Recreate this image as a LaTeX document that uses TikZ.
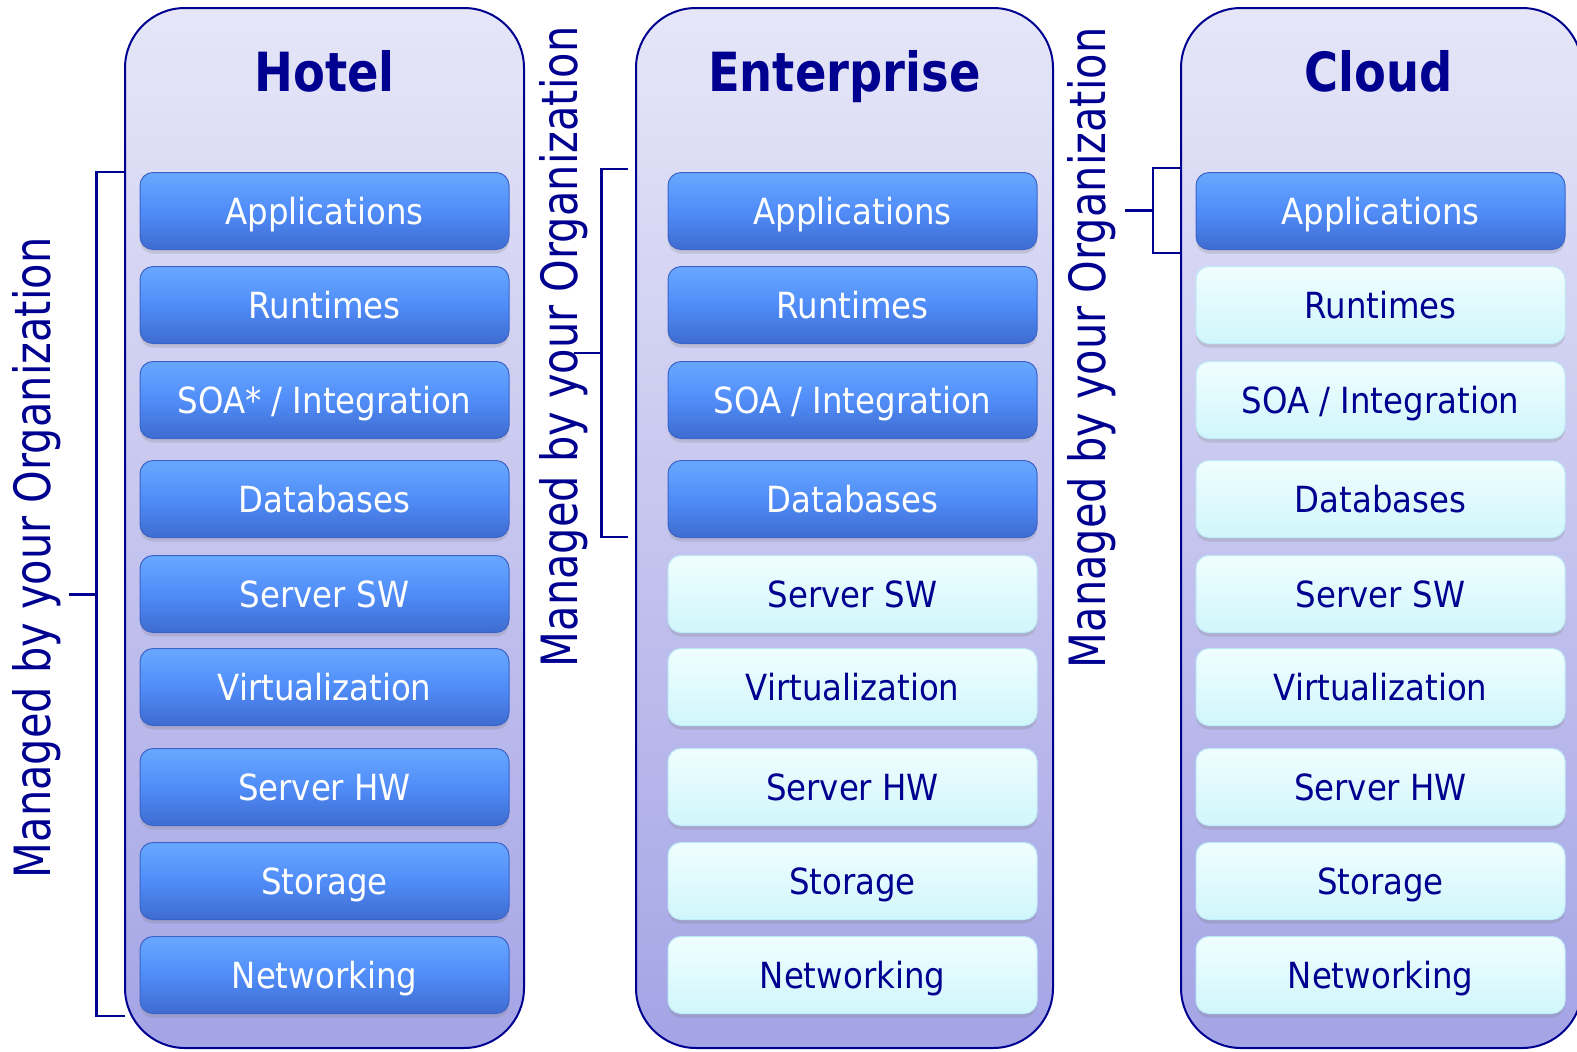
\documentclass[tikz,border=0pt]{standalone}
\usepackage{fontspec}
\setmainfont{DejaVu Sans}[FakeStretch=0.9]
\newfontfamily\titlefont{DejaVu Sans}[FakeStretch=0.86]
\newfontfamily\orgfont{DejaVu Sans}[FakeStretch=0.83]
\usetikzlibrary{shadows}

\definecolor{navy}{RGB}{0,0,144}
\definecolor{paneltop}{RGB}{230,230,248}
\definecolor{panelbot}{RGB}{164,164,230}
\definecolor{bluetop}{RGB}{104,168,255}
\definecolor{bluemid}{RGB}{80,140,248}
\definecolor{bluebot}{RGB}{62,108,208}
\definecolor{blueline}{RGB}{60,100,200}
\definecolor{litetop}{RGB}{240,254,255}
\definecolor{litebot}{RGB}{208,246,251}
\definecolor{liteline}{RGB}{190,236,246}

\tikzset{
  panel/.style={draw=navy, line width=2pt, rounded corners=60pt,
    top color=paneltop, bottom color=panelbot, minimum height=1040pt},
  layer/.style={rounded corners=13pt, minimum width=369pt, minimum height=77pt,
    inner sep=0pt, text height=26.2pt, text depth=0pt, line width=1pt,
    font=\fontsize{36}{40}\selectfont,
    drop shadow={shadow xshift=0pt, shadow yshift=-4pt, opacity=0.25}},
  bluebox/.style={layer, draw=blueline, top color=bluetop, bottom color=bluebot,
    middle color=bluemid, text=white},
  litebox/.style={layer, draw=liteline, top color=litetop, bottom color=litebot,
    text=navy},
  title/.style={anchor=base, text=navy,
    font=\titlefont\bfseries\fontsize{54}{60}\selectfont},
  org/.style={rotate=90, anchor=base, text=navy,
    font=\orgfont\fontsize{50}{56}\selectfont},
  brace/.style={draw=navy, line width=2.4pt}
}

\begin{document}
\begin{tikzpicture}[x=1pt, y=-1pt]
  \useasboundingbox (0,0) rectangle (1577,1052);
  \fill[white] (0,0) rectangle (1577,1052);

  % panels
  \node[panel, minimum width=399pt] (hotel) at (324.5,528) {};
  \node[panel, minimum width=417pt] (ent) at (844.5,528) {};
  \node[panel, minimum width=401pt] (cloud) at (1381.5,528) {};

  \node[title] (hoteltitle) at (324.5,91.5) {Hotel};
  \node[title] (enttitle) at (844.5,91.5) {Enterprise};
  \node[title] (cloudtitle) at (1379,91.5) {Cloud};

  % layers
  \foreach \y/\lbl [count=\i] in {211/Applications, 305/Runtimes,
      400/{SOA* / Integration}, 499/Databases, 594/Server SW,
      687/Virtualization, 787/Server HW, 881/Storage, 975/Networking}
    \node[bluebox] (h\i) at (324.5,\y) {\lbl};

  \foreach \y/\lbl [count=\i] in {211/Applications, 305/Runtimes,
      400/{SOA / Integration}, 499/Databases}
    \node[bluebox] (e\i) at (852.5,\y) {\lbl};
  \foreach \y/\lbl [count=\i from 5] in {594/Server SW, 687/Virtualization,
      787/Server HW, 881/Storage, 975/Networking}
    \node[litebox] (e\i) at (852.5,\y) {\lbl};

  \node[bluebox] (c1) at (1380.5,211) {Applications};
  \foreach \y/\lbl [count=\i from 2] in {305/Runtimes, 400/{SOA / Integration},
      499/Databases, 594/Server SW, 687/Virtualization, 787/Server HW,
      881/Storage, 975/Networking}
    \node[litebox] (c\i) at (1380.5,\y) {\lbl};

  % brackets
  \coordinate (hb) at (96.5,594.5);
  \coordinate (eb) at (601.5,353);
  \coordinate (cb) at (1153,210.5);
  \draw[brace] (hotel.west |- h1.north) -| (hb) |- (125,1016);
  \draw[brace] (hb) -- ++(-28,0);
  \draw[brace] (628,169) -| (eb) |- (628,537);
  \draw[brace] (eb) -- ++(-28,0);
  \draw[brace] (cloud.west |- 0,168) -| (cb) |- (cloud.west |- 0,253);
  \draw[brace] (cb) -- ++(-28,0);

  \node[org] (horg) at (50,558) {Managed by your Organization};
  \node[org] (eorg) at (577,347) {Managed by your Organization};
  \node[org] (corg) at (1105,348) {Managed by your Organization};
\end{tikzpicture}
\end{document}
